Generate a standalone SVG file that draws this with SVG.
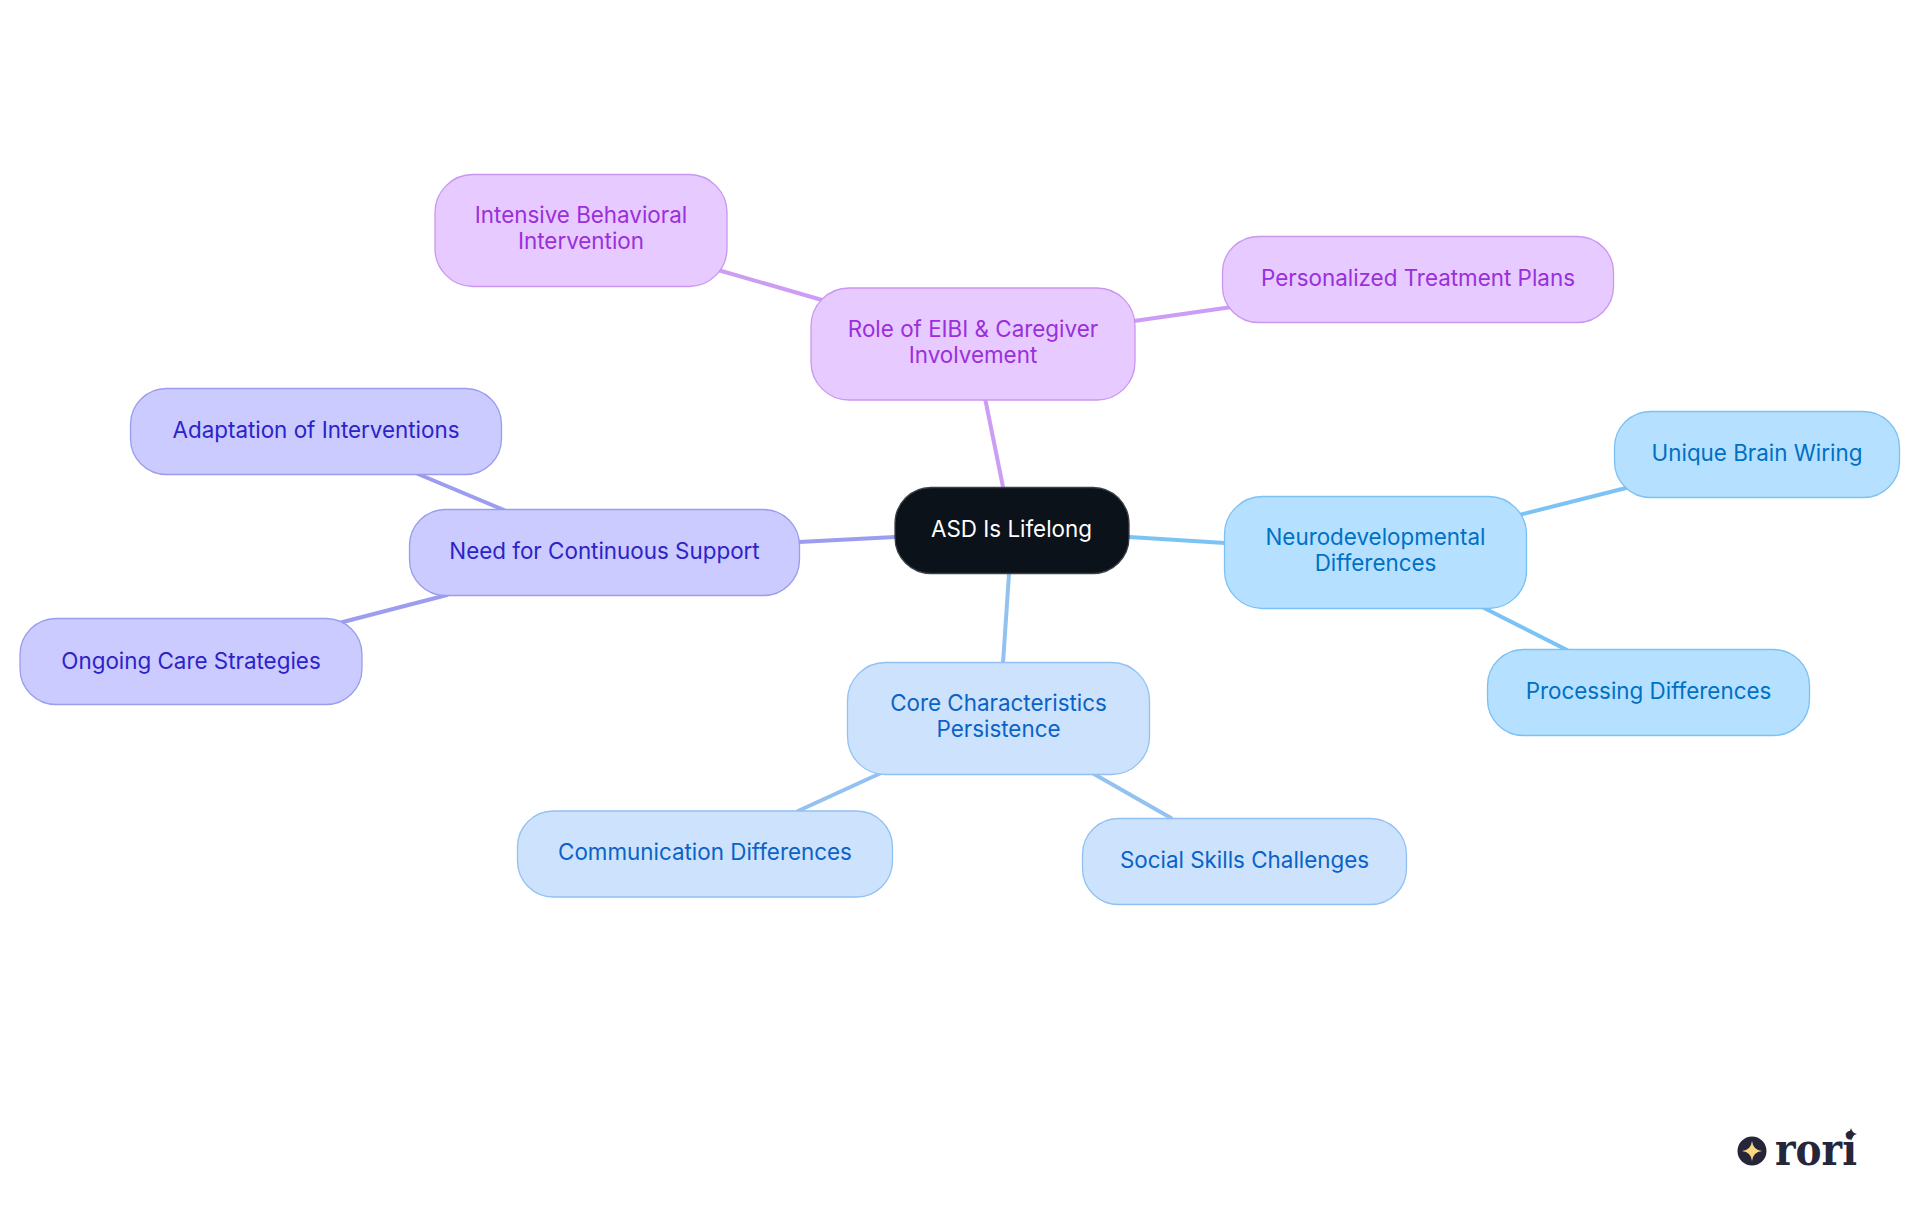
<svg xmlns="http://www.w3.org/2000/svg" width="1920" height="1215" viewBox="0 0 1920 1215">
<style>
text{font-family:"Inter","Noto Sans","Liberation Sans",sans-serif;font-size:22.4px;text-anchor:middle}
rect{stroke-width:1.3}
.c{fill:none;stroke-width:4;stroke-linecap:round}
.p rect{fill:#e7caff;stroke:#c996f0}.p text{fill:#9a2fdc}
.b rect{fill:#b5e0ff;stroke:#7cc1f2}.b text{fill:#0070c4}
.l rect{fill:#cde3fd;stroke:#92c0f2}.l text{fill:#0a62c7}
.v rect{fill:#cbcbff;stroke:#9a9cec}.v text{fill:#2c23c9}
</style>
<rect width="1920" height="1215" fill="#fff" stroke="none"/>
<g id="connectors">
<path class="c" stroke="#cd9cf5" d="M1003 487L985 398M822 300L718 270M1134 321L1232 307"/>
<path class="c" stroke="#7cc3f5" d="M1129 537L1225 543M1519 515L1630 487M1484 608L1567 650"/>
<path class="c" stroke="#94c2f0" d="M1009 574L1003 663M881 773L798 811M1094 774L1171 818"/>
<path class="c" stroke="#9d9df0" d="M895 537L799 542M504 510L418 474M447 595L339 623"/>
</g>
<g id="root"><rect x="895" y="487.500" width="234" height="86" rx="36" fill="#0b121a" stroke="#3a4048"/><text x="1011.500" y="537" fill="#fff">ASD Is Lifelong</text></g>
<g id="eibi" class="p"><rect x="811" y="288" width="324" height="112" rx="38"/><text x="973" y="337">Role of EIBI &amp; Caregiver</text><text x="973" y="362.500">Involvement</text></g>
<g id="intensive" class="p"><rect x="435" y="174.500" width="292" height="112" rx="38"/><text x="581" y="223">Intensive Behavioral</text><text x="581" y="249">Intervention</text></g>
<g id="personalized" class="p"><rect x="1222.500" y="236.500" width="391" height="86" rx="36"/><text x="1418" y="286">Personalized Treatment Plans</text></g>
<g id="neuro" class="b"><rect x="1224.500" y="496.500" width="302" height="112" rx="38"/><text x="1375.500" y="545">Neurodevelopmental</text><text x="1375.500" y="571">Differences</text></g>
<g id="unique" class="b"><rect x="1614.500" y="411.500" width="285" height="86" rx="36"/><text x="1757" y="461">Unique Brain Wiring</text></g>
<g id="processing" class="b"><rect x="1487.500" y="649.500" width="322" height="86" rx="36"/><text x="1648.500" y="699">Processing Differences</text></g>
<g id="core" class="l"><rect x="847.500" y="662.500" width="302" height="112" rx="38"/><text x="998.500" y="711">Core Characteristics</text><text x="998.500" y="737">Persistence</text></g>
<g id="communication" class="l"><rect x="517.500" y="811" width="375" height="86" rx="36"/><text x="705" y="860">Communication Differences</text></g>
<g id="social" class="l"><rect x="1082.500" y="818.500" width="324" height="86" rx="36"/><text x="1244.500" y="868">Social Skills Challenges</text></g>
<g id="support" class="v"><rect x="409.500" y="509.500" width="390" height="86" rx="36"/><text x="604.500" y="559">Need for Continuous Support</text></g>
<g id="adaptation" class="v"><rect x="130.500" y="388.500" width="371" height="86" rx="36"/><text x="316" y="438">Adaptation of Interventions</text></g>
<g id="ongoing" class="v"><rect x="20" y="618.500" width="342" height="86" rx="36"/><text x="191" y="669">Ongoing Care Strategies</text></g>
<g id="logo">
<circle cx="1752" cy="1151" r="14.500" fill="#26263a"/>
<path d="M1752 1141Q1753 1150 1762 1151Q1753 1152 1752 1161Q1751 1152 1742 1151Q1751 1150 1752 1141Z" fill="#fbd77f"/>
<text x="1816" y="1165" textLength="82" lengthAdjust="spacingAndGlyphs" style="font-family:'DejaVu Serif',serif;font-weight:700;font-size:44px;fill:#26263a">rori</text>
<path d="M1851 1128Q1852 1133 1857 1134Q1852 1135 1851 1141Q1850 1135 1845 1134Q1850 1133 1851 1128Z" fill="#26263a"/>
</g>
</svg>
